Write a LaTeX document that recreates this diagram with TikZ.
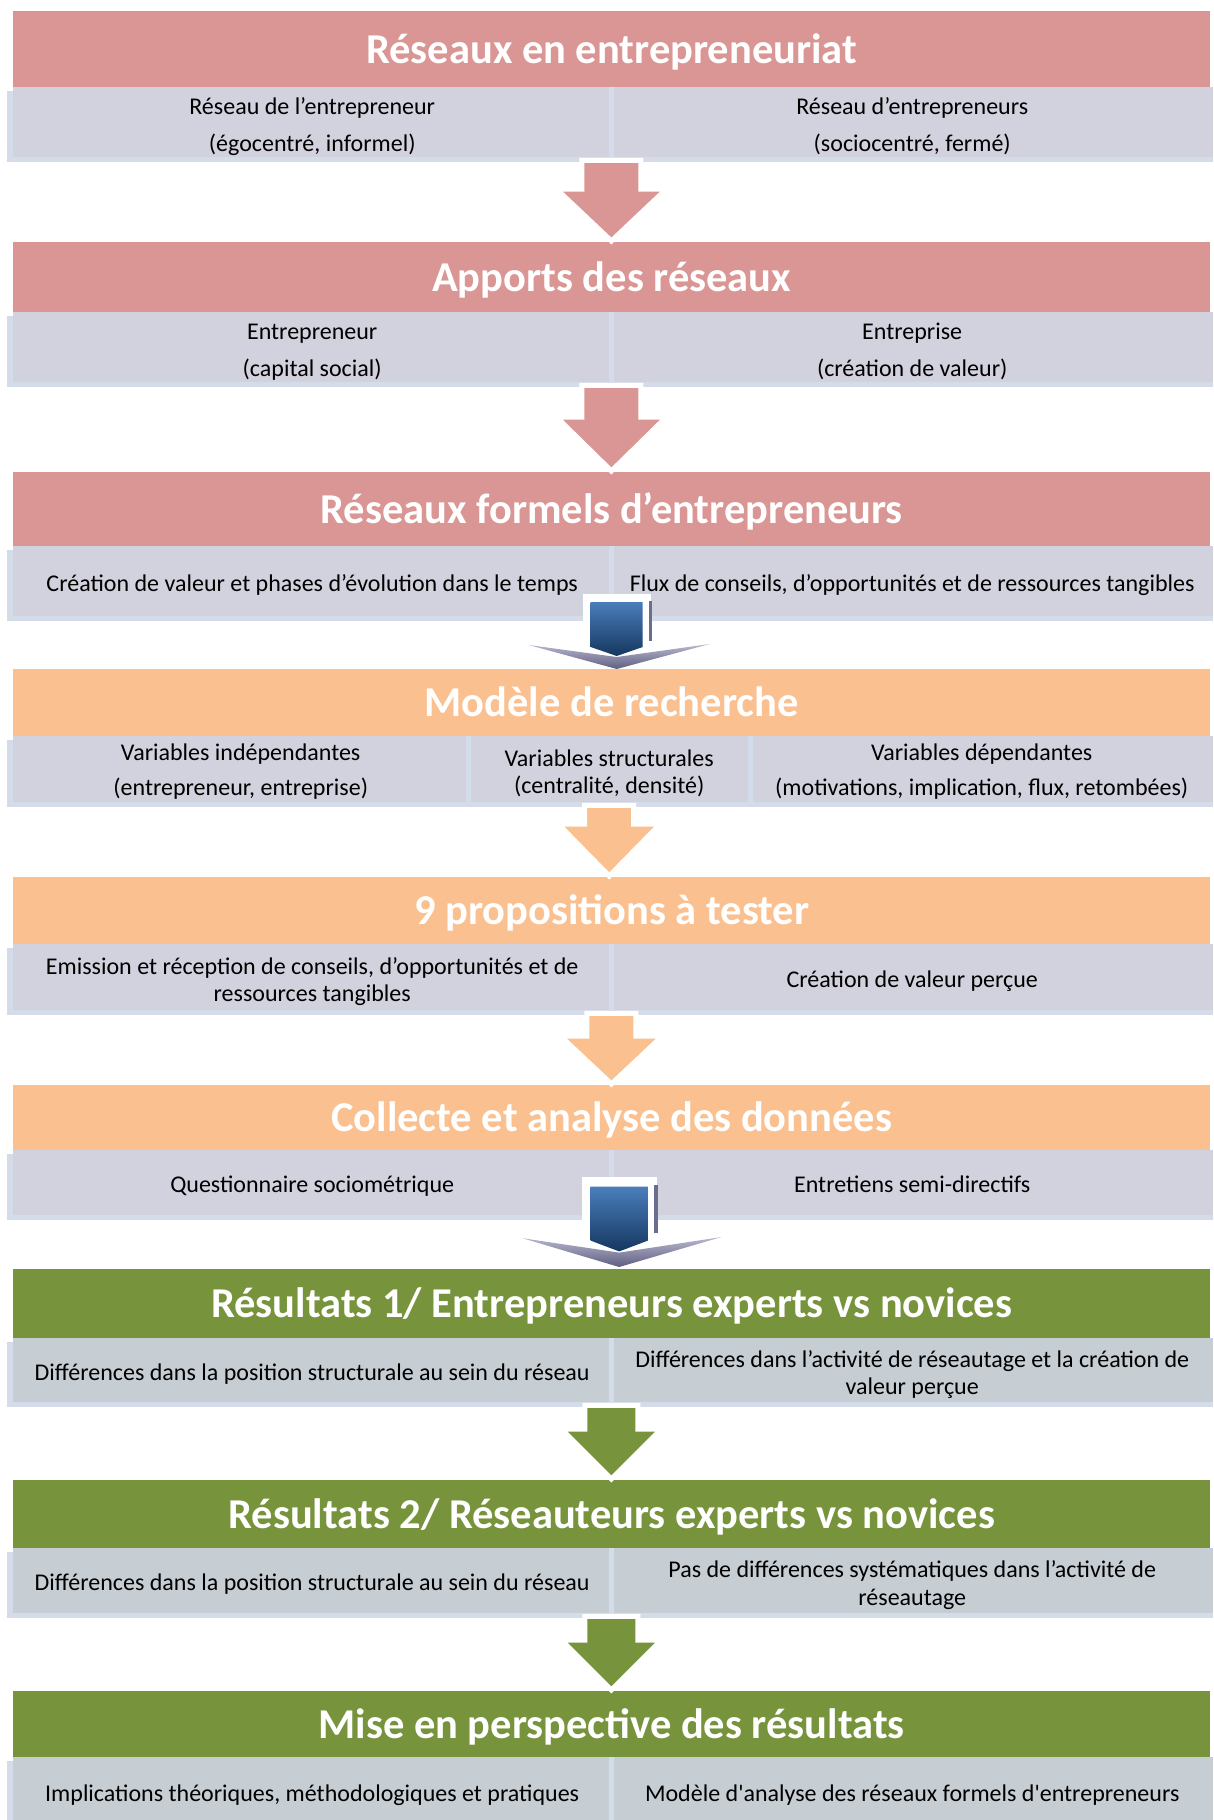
\documentclass[tikz,border=0pt]{standalone}
\usepackage{fontspec}
\setmainfont{Carlito}[Ligatures=TeXOff]
\usetikzlibrary{calc,backgrounds}

\definecolor{pinkhead}{HTML}{D99694}
\definecolor{orangehead}{HTML}{FAC090}
\definecolor{greenhead}{HTML}{77933C}
\definecolor{lavbox}{HTML}{D2D1DE}
\definecolor{bluebox}{HTML}{C6CDD3}
\definecolor{boxshadow}{HTML}{D5DCE9}
\definecolor{divline}{HTML}{D3DCEA}
\definecolor{arrowtop}{HTML}{4A7EBB}
\definecolor{arrowbot}{HTML}{15375F}
\definecolor{chevlight}{HTML}{B8B8D0}
\definecolor{chevdark}{HTML}{5E5E80}
\definecolor{edgeline}{HTML}{6A6E8C}

\newcommand{\headstrut}{\rule[-11pt]{0pt}{50pt}}
\newcommand{\cellstrut}{\rule[-6pt]{0pt}{32pt}}

\tikzset{
  header/.style={anchor=north west, minimum width=1197pt, inner sep=0pt,
    text=white, font=\fontsize{42.5}{46}\selectfont\bfseries,
    execute at begin node=\headstrut},
  cell/.style={anchor=north west, fill=lavbox, inner sep=0pt, align=center,
    text=black, font=\fontsize{24}{37}\selectfont,
    execute at begin node=\cellstrut, execute at end node=\cellstrut},
  twoline/.style={execute at begin node=\rule{0pt}{64pt}},
  varline/.style={font=\fontsize{24}{35.5}\selectfont,
    execute at begin node=\rule{0pt}{59pt}},
  tight/.style={font=\fontsize{24}{27.5}\selectfont,
    execute at begin node=\rule{0pt}{55pt}},
  divider/.style={draw=divline, line width=5pt},
}

% block arrow: colour, start point, target node, half shaft, half head, head length
\newcommand{\blockarrow}[6]{%
  \coordinate (ta) at (#2);
  \coordinate (tb) at ($(ta |- #3.north)+(0,-1)$);
  \filldraw[fill=#1, draw=white, line width=5pt, line join=miter]
    ($(ta)+(-#4,3)$) -- ($(ta)+(#4,3)$) -- ($(tb)+(#4,-#6)$) -- ($(tb)+(#5,-#6)$)
    -- (tb) -- ($(tb)+(-#5,-#6)$) -- ($(tb)+(-#4,-#6)$) -- cycle;
}

% shaded down arrow standing on a flat chevron
\newcommand{\bluearrow}[2]{%
  \begin{scope}[shift={(#1)}, #2]
    \fill[white] (-29,-75) rectangle (39,-25);
    \shade[top color=chevlight, bottom color=chevdark]
      (-83,-24) -- (5,-12) -- (98,-25) -- (5,0) -- cycle;
    \fill[edgeline] (37,-68) rectangle (40,-28);
    \shade[top color=arrowtop, bottom color=arrowbot]
      (-21,-67) -- (31,-67) -- (31,-22) -- (5,-13) -- (-21,-22) -- cycle;
  \end{scope}
}

\begin{document}
\begin{tikzpicture}[x=1pt, y=-1pt]
\useasboundingbox (0,0) rectangle (1213,1820);

\node[header, fill=pinkhead, minimum height=76pt] (h1) at (13,11) {Réseaux en entrepreneuriat};
\node[cell, twoline, minimum width=598pt, minimum height=70pt] (g1a) at (13,87) {Réseau de l’entrepreneur\\(égocentré, informel)};
\node[cell, twoline, minimum width=602pt, minimum height=70pt] (g1b) at (611,87) {Réseau d’entrepreneurs\\(sociocentré, fermé)};

\node[header, fill=pinkhead, minimum height=70pt] (h2) at (13,242) {Apports des réseaux};
\node[cell, twoline, minimum width=598pt, minimum height=70pt] (g2a) at (13,312) {Entrepreneur\\(capital social)};
\node[cell, twoline, minimum width=602pt, minimum height=70pt] (g2b) at (611,312) {Entreprise\\(création de valeur)};

\node[header, fill=pinkhead, minimum height=74pt] (h3) at (13,472) {Réseaux formels d’entrepreneurs};
\node[cell, minimum width=598pt, minimum height=70pt] (g3a) at (13,546) {Création de valeur et phases d’évolution dans le temps};
\node[cell, minimum width=602pt, minimum height=70pt] (g3b) at (611,546) {Flux de conseils, d’opportunités et de ressources tangibles};

\node[header, fill=orangehead, minimum height=67pt] (h4) at (13,669) {Modèle de recherche};
\node[cell, varline, minimum width=455pt, minimum height=66pt] (g4a) at (13,736) {Variables indépendantes\\(entrepreneur, entreprise)};
\node[cell, tight, minimum width=282pt, minimum height=66pt] (g4b) at (468,736) {Variables structurales\\(centralité, densité)};
\node[cell, varline, minimum width=463pt, minimum height=66pt] (g4c) at (750,736) {Variables dépendantes\\(motivations, implication, flux, retombées)};

\node[header, fill=orangehead, minimum height=67pt] (h5) at (13,877) {9 propositions à tester};
\node[cell, tight, minimum width=598pt, minimum height=66pt] (g5a) at (13,944) {Emission et réception de conseils, d’opportunités et de\\ressources tangibles};
\node[cell, minimum width=602pt, minimum height=66pt] (g5b) at (611,944) {Création de valeur perçue};

\node[header, fill=orangehead, minimum height=65pt] (h6) at (13,1085) {Collecte et analyse des données};
\node[cell, minimum width=598pt, minimum height=65pt] (g6a) at (13,1150) {Questionnaire sociométrique};
\node[cell, minimum width=602pt, minimum height=65pt] (g6b) at (611,1150) {Entretiens semi-directifs};

\node[header, fill=greenhead, minimum height=69pt] (h7) at (13,1269) {Résultats 1/ Entrepreneurs experts vs novices};
\node[cell, fill=bluebox, minimum width=598pt, minimum height=64pt] (g7a) at (13,1338) {Différences dans la position structurale au sein du réseau};
\node[cell, tight, fill=bluebox, minimum width=602pt, minimum height=64pt] (g7b) at (611,1338) {Différences dans l’activité de réseautage et la création de\\valeur perçue};

\node[header, fill=greenhead, minimum height=68pt] (h8) at (13,1480) {Résultats 2/ Réseauteurs experts vs novices};
\node[cell, fill=bluebox, minimum width=598pt, minimum height=65pt] (g8a) at (13,1548) {Différences dans la position structurale au sein du réseau};
\node[cell, tight, fill=bluebox, minimum width=602pt, minimum height=65pt] (g8b) at (611,1548) {Pas de différences systématiques dans l’activité de\\réseautage};

\node[header, fill=greenhead, minimum height=66pt] (h9) at (13,1691) {Mise en perspective des résultats};
\node[cell, fill=bluebox, minimum width=598pt, minimum height=68pt] (g9a) at (13,1757) {Implications théoriques, méthodologiques et pratiques};
\node[cell, fill=bluebox, minimum width=602pt, minimum height=68pt] (g9b) at (611,1757) {Modèle d'analyse des réseaux formels d'entrepreneurs};

\foreach \g in {g1a, g2a, g3a, g4a, g4b, g5a, g6a, g7a, g8a, g9a}
  \draw[divider] (\g.north east) -- (\g.south east);

\begin{scope}[on background layer]
  \fill[white] (0,0) rectangle (1213,1820);
  \foreach \l/\r in {g1a/g1b, g2a/g2b, g3a/g3b, g4a/g4c, g5a/g5b, g6a/g6b, g7a/g7b, g8a/g8b, g9a/g9b}
    \fill[boxshadow] ($(\l.north west)+(-6,4)$) rectangle ($(\r.south east)+(0,5)$);
\end{scope}

\blockarrow{pinkhead}{g1a.south east}{h2}{29.5}{55}{52}
\blockarrow{pinkhead}{g2a.south east}{h3}{29.5}{55}{54}
\blockarrow{orangehead}{g4b.south}{h5}{24.5}{51}{52}
\blockarrow{orangehead}{g5a.south east}{h6}{24.5}{51}{48}
\blockarrow{greenhead}{g7a.south east}{h8}{26.5}{50}{50}
\blockarrow{greenhead}{g8a.south east}{h9}{26.5}{50}{50}

\bluearrow{h4.north}{}
\bluearrow{$(h7.north)+(2,-2)$}{xscale=1.1, yscale=1.2}
\end{tikzpicture}
\end{document}
